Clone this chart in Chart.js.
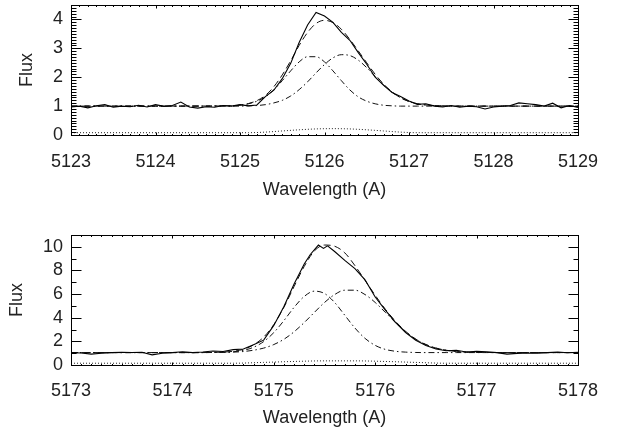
<!DOCTYPE html>
<html>
<head>
<meta charset="utf-8">
<script src="https://cdn.jsdelivr.net/npm/chart.js@4/dist/chart.umd.min.js"></script>
<style>
  html, body { margin: 0; padding: 0; background: #fff; }
  .panel { position: absolute; left: 0; width: 621px; height: 217px; }
</style>
</head>
<body>
<div class="panel" style="top:0"><canvas id="top-chart" width="621" height="217"></canvas></div>
<div class="panel" style="top:217px"><canvas id="bottom-chart" width="621" height="217"></canvas></div>
<script>
// ---- top panel data (5123-5129 A) ----
const topXTicks = [5123, 5124, 5125, 5126, 5127, 5128, 5129];
const topYTicks = [0, 1, 2, 3, 4];

const topObsWave = [5123.0,5123.1,5123.2,5123.3,5123.4,5123.5,5123.6,5123.7,5123.8,5123.9,
  5124.0,5124.1,5124.2,5124.3,5124.4,5124.5,5124.6,5124.7,5124.8,5124.9,
  5125.0,5125.1,5125.2,5125.3,5125.4,5125.5,5125.6,5125.7,5125.8,5125.9,
  5126.0,5126.1,5126.2,5126.3,5126.4,5126.5,5126.6,5126.7,5126.8,5126.9,
  5127.0,5127.1,5127.2,5127.3,5127.4,5127.5,5127.6,5127.7,5127.8,5127.9,
  5128.0,5128.1,5128.2,5128.3,5128.4,5128.5,5128.6,5128.7,5128.8,5128.9,5129.0];
const topObsFlux = [0.97,1.00,0.94,1.01,1.05,0.96,1.00,0.98,1.03,0.97,
  1.05,0.99,1.02,1.14,0.97,0.93,0.98,0.96,1.02,1.00,
  1.05,1.01,1.04,1.33,1.55,1.95,2.48,3.20,3.81,4.24,
  4.12,3.90,3.55,3.28,2.85,2.45,2.00,1.72,1.47,1.33,
  1.18,1.06,1.08,1.00,0.97,1.02,0.96,1.00,0.98,0.90,
  0.97,1.00,1.02,1.11,1.08,1.05,1.00,1.10,0.94,1.02,0.95];

const topModelWave = [5123.0,5124.0,5124.9,
  5125.0,5125.1,5125.2,5125.3,5125.4,5125.5,5125.6,5125.7,5125.8,5125.9,
  5126.0,5126.1,5126.2,5126.3,5126.4,5126.5,5126.6,5126.7,5126.8,5126.9,
  5127.0,5127.1,5127.2,5127.3,5127.4,5127.5,5128.0,5129.0];
const topFit = [1.00,1.00,1.01,
  1.03,1.09,1.19,1.37,1.67,2.08,2.57,3.10,3.55,3.86,
  3.97,3.89,3.66,3.31,2.91,2.50,2.10,1.76,1.49,1.29,
  1.16,1.08,1.04,1.02,1.01,1.00,1.00,1.00];
const topComp1 = [1.00,1.00,1.01,
  1.03,1.08,1.17,1.32,1.56,1.88,2.22,2.53,2.71,2.71,
  2.53,2.22,1.88,1.56,1.32,1.17,1.08,1.03,1.01,1.00,
  1.00,1.00,1.00,1.00,1.00,1.00,1.00,1.00];
const topComp2 = [1.00,1.00,1.00,
  1.00,1.01,1.02,1.05,1.11,1.20,1.35,1.57,1.84,2.15,
  2.44,2.67,2.78,2.75,2.59,2.33,2.02,1.73,1.48,1.29,
  1.16,1.08,1.04,1.02,1.01,1.00,1.00,1.00];

const topResWave = [5123.0,5125.1,5125.3,5125.5,5125.7,5125.9,5126.1,5126.3,5126.5,5126.7,5126.9,5127.1,5129.0];
const topRes = [0.08,0.08,0.10,0.14,0.18,0.21,0.22,0.21,0.18,0.14,0.10,0.08,0.08];

// ---- bottom panel data (5173-5178 A) ----
const botXTicks = [5173, 5174, 5175, 5176, 5177, 5178];
const botYTicks = [0, 2, 4, 6, 8, 10];

const botObsWave = [5173.0,5173.1,5173.2,5173.3,5173.4,5173.5,5173.6,5173.7,5173.8,5173.9,
  5174.0,5174.1,5174.2,5174.3,5174.4,5174.5,5174.6,5174.7,5174.8,5174.9,
  5175.0,5175.1,5175.2,5175.3,5175.36,5175.44,5175.49,5175.53,5175.6,5175.7,5175.8,5175.9,
  5176.0,5176.1,5176.2,5176.3,5176.4,5176.5,5176.6,5176.7,5176.8,5176.9,
  5177.0,5177.1,5177.2,5177.3,5177.4,5177.5,5177.6,5177.7,5177.8,5177.9,5178.0];
const botObsFlux = [1.05,1.02,0.92,1.00,1.05,1.08,1.06,1.08,0.86,1.00,
  1.05,1.12,1.05,1.10,1.18,1.14,1.30,1.36,1.72,2.10,
  3.35,4.95,6.85,8.55,9.35,10.15,9.87,10.08,9.60,8.85,8.15,7.20,
  5.75,4.65,3.60,2.75,2.10,1.65,1.35,1.20,1.25,1.10,
  1.15,1.12,1.05,0.92,0.98,1.02,1.00,1.05,1.10,1.04,1.08];

const botModelWave = [5173.0,5174.0,5174.3,
  5174.4,5174.5,5174.6,5174.7,5174.8,5174.9,
  5175.0,5175.1,5175.2,5175.3,5175.4,5175.5,5175.6,5175.7,5175.8,5175.9,
  5176.0,5176.1,5176.2,5176.3,5176.4,5176.5,5176.6,5176.7,5176.8,5176.9,
  5177.0,5177.1,5177.2,5178.0];
const botFit = [1.05,1.05,1.05,
  1.07,1.09,1.16,1.33,1.70,2.36,
  3.42,4.89,6.64,8.34,9.65,10.15,10.05,9.49,8.41,7.16,
  5.90,4.72,3.70,2.85,2.19,1.73,1.43,1.25,1.14,1.09,
  1.07,1.06,1.05,1.05];
const botComp1 = [1.05,1.05,1.05,
  1.06,1.07,1.12,1.24,1.50,1.98,
  2.74,3.76,4.88,5.80,6.25,6.05,5.29,4.21,3.13,2.25,
  1.66,1.32,1.16,1.09,1.06,1.05,1.05,1.05,1.05,1.05,
  1.05,1.05,1.05,1.05];
const botComp2 = [1.05,1.05,1.05,
  1.06,1.07,1.09,1.14,1.25,1.43,
  1.73,2.18,2.81,3.59,4.45,5.29,5.96,6.33,6.33,5.96,
  5.29,4.45,3.59,2.81,2.18,1.73,1.43,1.25,1.14,1.09,
  1.07,1.06,1.05,1.05];

const botResWave = [5173.0,5174.6,5174.9,5175.2,5175.5,5175.8,5176.1,5176.4,5176.7,5178.0];
const botRes = [0.15,0.15,0.22,0.30,0.35,0.35,0.30,0.22,0.15,0.15];

const FONT = 'Liberation Sans, Arial, Helvetica, sans-serif';
const FONT_SIZE = 18;
const TEXT_COLOR = '#222';

// pair wavelengths with flux values for chart.js
function points(xs, ys) {
  return xs.map((x, i) => ({ x: x, y: ys[i] }));
}

// box round the plot with inward ticks on all four sides (IDL style)
const frameTicks = {
  id: 'frameTicks',
  afterDatasetsDraw(chart, args, opts) {
    const ctx = chart.ctx;
    const a = chart.chartArea;
    const xs = chart.scales.x;
    const ys = chart.scales.y;
    const L = Math.round(a.left) + 0.5, R = Math.round(a.right) + 0.5;
    const T = Math.round(a.top) + 0.5, B = Math.round(a.bottom) + 0.5;
    ctx.save();
    ctx.strokeStyle = '#000';
    ctx.lineWidth = 1;
    ctx.beginPath();

    // x ticks: minor and major
    for (let v = xs.min; v <= xs.max + 1e-6; v += opts.xMinor) {
      const p = Math.round(xs.getPixelForValue(v)) + 0.5;
      const isMajor = Math.abs(v - Math.round(v)) < 1e-6;
      const len = isMajor ? opts.xLen : opts.xLen / 2;
      ctx.moveTo(p, B); ctx.lineTo(p, B - len);
      ctx.moveTo(p, T); ctx.lineTo(p, T + len);
    }
    // y ticks
    for (let v = ys.min; v <= ys.max + 1e-6; v += opts.yMinor) {
      const p = Math.round(ys.getPixelForValue(v)) + 0.5;
      const isMajor = Math.abs(v / opts.yMajor - Math.round(v / opts.yMajor)) < 1e-6;
      const len = isMajor ? opts.yLen : opts.yLen / 2;
      ctx.moveTo(L, p); ctx.lineTo(L + len, p);
      ctx.moveTo(R, p); ctx.lineTo(R - len, p);
    }
    ctx.stroke();
    ctx.strokeRect(L, T, R - L, B - T);
    ctx.restore();
  }
};

function makeChart(id, d) {
  const ctx = document.getElementById(id).getContext('2d');
  return new Chart(ctx, {
    type: 'line',
    data: {
      datasets: [
        { data: points(d.obsWave, d.obsFlux), borderColor: '#000', borderWidth: 1.1, tension: 0 },
        { data: points(d.modelWave, d.fit), borderColor: '#111', borderWidth: 1, borderDash: [7, 4], cubicInterpolationMode: 'monotone' },
        { data: points(d.modelWave, d.comp1), borderColor: '#111', borderWidth: 1, borderDash: [6, 3, 1.5, 3], cubicInterpolationMode: 'monotone' },
        { data: points(d.modelWave, d.comp2), borderColor: '#111', borderWidth: 1, borderDash: [6, 3, 1.5, 3], cubicInterpolationMode: 'monotone' },
        { data: points(d.resWave, d.res), borderColor: '#222', borderWidth: 1, borderDash: [1, 2], cubicInterpolationMode: 'monotone' }
      ]
    },
    options: {
      responsive: false,
      animation: false,
      events: [],
      elements: { point: { radius: 0 } },
      layout: { padding: { left: 0, right: 43, top: d.padTop, bottom: 0 } },
      plugins: {
        legend: { display: false },
        tooltip: { enabled: false },
        frameTicks: { xMinor: 0.1, xLen: 3, yMinor: d.yMinor, yMajor: d.yMajor, yLen: 10 }
      },
      scales: {
        x: {
          type: 'linear',
          min: d.xTicks[0],
          max: d.xTicks[d.xTicks.length - 1],
          grid: { display: false, drawTicks: false },
          border: { display: false },
          afterBuildTicks: s => { s.ticks = d.xTicks.map(v => ({ value: v })); },
          afterFit: s => { s.height = d.xAxisHeight; s.paddingLeft = 0; s.paddingRight = 0; },
          ticks: {
            padding: d.xLabelPad,
            color: TEXT_COLOR,
            font: { family: FONT, size: FONT_SIZE },
            maxRotation: 0,
            callback: v => String(v)
          },
          title: {
            display: true,
            text: 'Wavelength (A)',
            color: TEXT_COLOR,
            font: { family: FONT, size: FONT_SIZE },
            padding: { top: 0, bottom: d.xTitlePad }
          }
        },
        y: {
          min: d.yMin,
          max: d.yMax,
          grid: { display: false, drawTicks: false },
          border: { display: false },
          afterBuildTicks: s => { s.ticks = d.yTicks.map(v => ({ value: v })); },
          afterFit: s => { s.width = 71; s.paddingTop = 0; s.paddingBottom = 0; },
          ticks: {
            padding: 8,
            color: TEXT_COLOR,
            font: { family: FONT, size: FONT_SIZE },
            callback: v => String(v)
          },
          title: {
            display: true,
            text: 'Flux',
            color: TEXT_COLOR,
            font: { family: FONT, size: FONT_SIZE },
            padding: { top: d.yTitlePad, bottom: 0 }
          }
        }
      }
    },
    plugins: [frameTicks]
  });
}

makeChart('top-chart', {
  obsWave: topObsWave, obsFlux: topObsFlux,
  modelWave: topModelWave, fit: topFit, comp1: topComp1, comp2: topComp2,
  resWave: topResWave, res: topRes,
  xTicks: topXTicks, yTicks: topYTicks,
  yMin: 0, yMax: 4.5, yMinor: 0.1, yMajor: 1,
  padTop: 5, xAxisHeight: 82, xLabelPad: 16, xTitlePad: 16, yTitlePad: 16
});

makeChart('bottom-chart', {
  obsWave: botObsWave, obsFlux: botObsFlux,
  modelWave: botModelWave, fit: botFit, comp1: botComp1, comp2: botComp2,
  resWave: botResWave, res: botRes,
  xTicks: botXTicks, yTicks: botYTicks,
  yMin: 0, yMax: 11, yMinor: 1, yMajor: 2,
  padTop: 18, xAxisHeight: 69, xLabelPad: 15, xTitlePad: 5, yTitlePad: 6
});
</script>
</body>
</html>
